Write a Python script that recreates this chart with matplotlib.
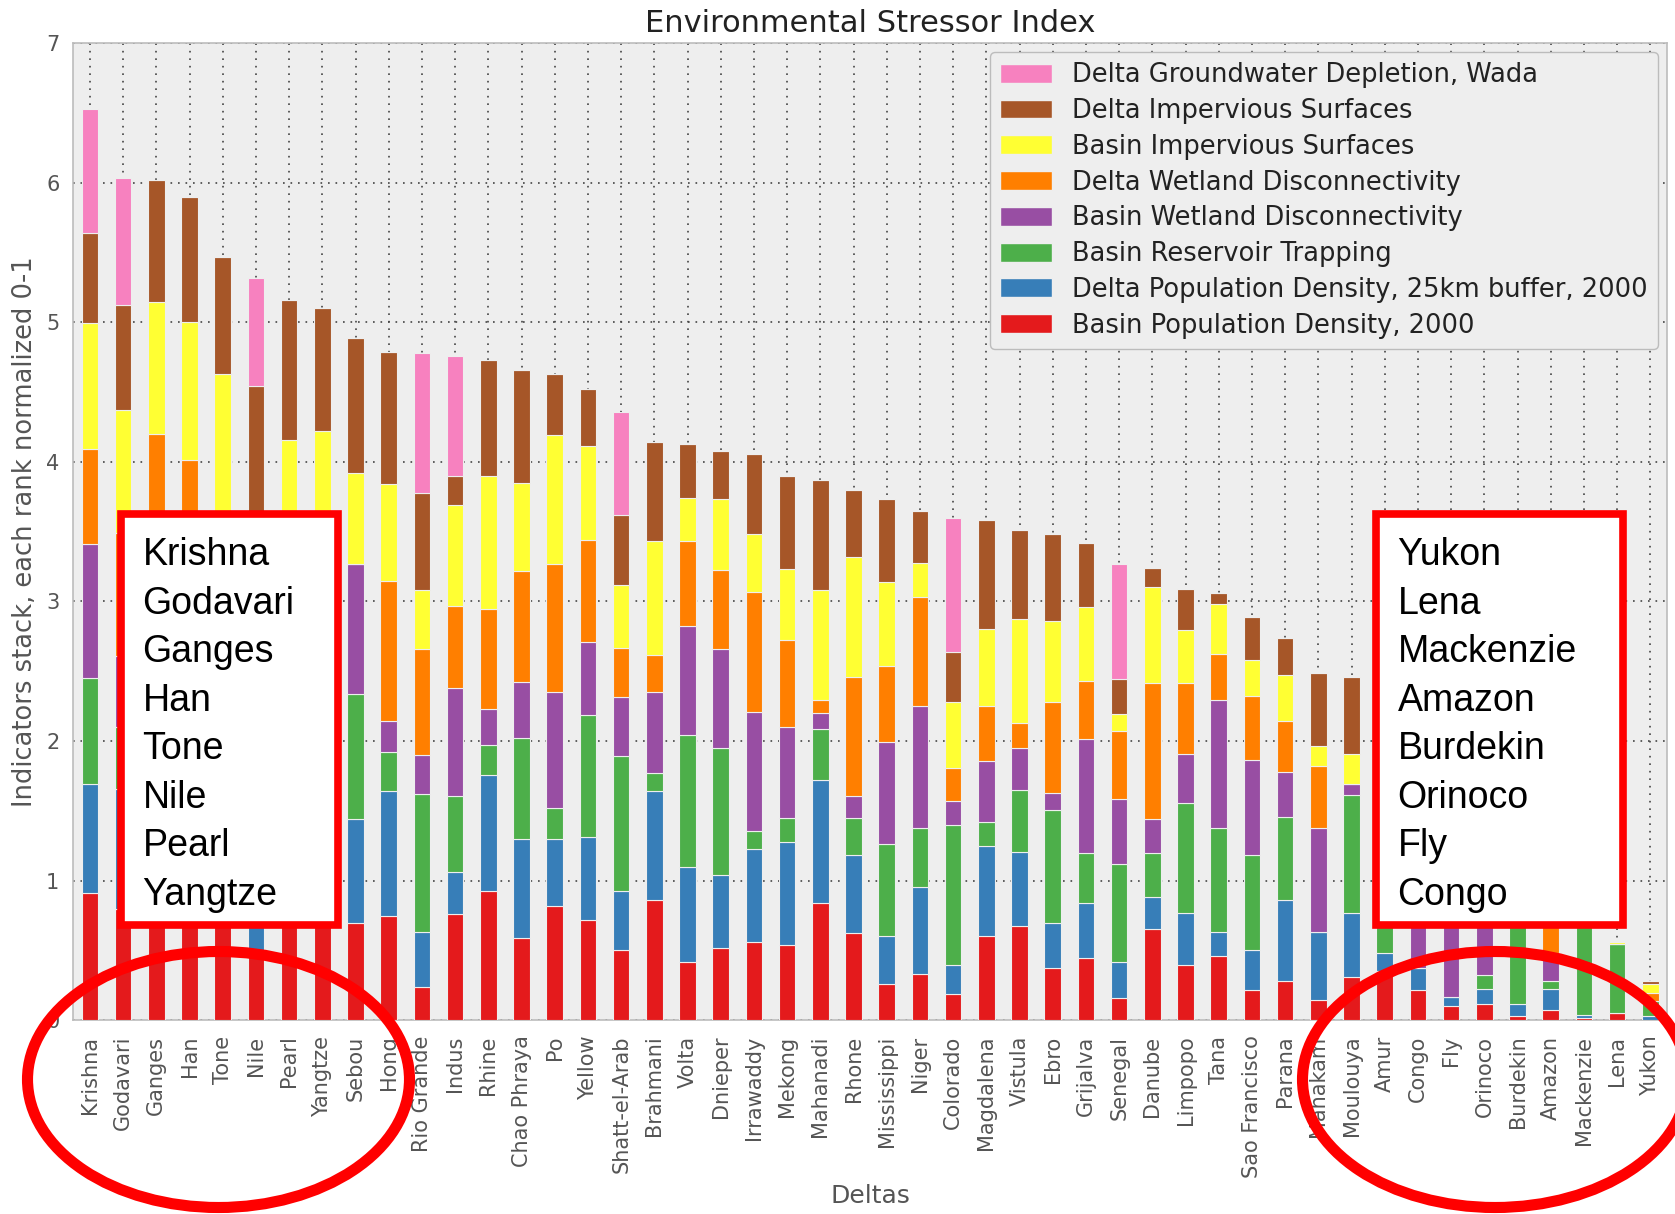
import matplotlib
matplotlib.use("Agg")
import matplotlib.pyplot as plt
import numpy as np
from matplotlib.patches import Rectangle, Ellipse, Patch

deltas = ["Krishna", "Godavari", "Ganges", "Han", "Tone", "Nile", "Pearl", "Yangtze",
          "Sebou", "Hong", "Rio Grande", "Indus", "Rhine", "Chao Phraya", "Po", "Yellow",
          "Shatt-el-Arab", "Brahmani", "Volta", "Dnieper", "Irrawaddy", "Mekong",
          "Mahanadi", "Rhone", "Mississippi", "Niger", "Colorado", "Magdalena", "Vistula",
          "Ebro", "Grijalva", "Senegal", "Danube", "Limpopo", "Tana", "Sao Francisco",
          "Parana", "Mahakam", "Moulouya", "Amur", "Congo", "Fly", "Orinoco", "Burdekin",
          "Amazon", "Mackenzie", "Lena", "Yukon"]

# indicator values, stacked bottom -> top
basin_pop = [0.91, 0.80, 0.95, 0.90, 0.80, 0.49, 0.85, 0.80, 0.70, 0.745,
             0.24, 0.763, 0.927, 0.59, 0.816, 0.715, 0.50, 0.86, 0.42, 0.516,
             0.563, 0.538, 0.842, 0.627, 0.263, 0.332, 0.187, 0.604, 0.674, 0.373,
             0.443, 0.161, 0.652, 0.399, 0.462, 0.215, 0.285, 0.146, 0.31, 0.353,
             0.215, 0.103, 0.119, 0.031, 0.074, 0.014, 0.055, 0.0]
delta_pop = [0.78, 0.86, 0.55, 0.55, 0.60, 0.66, 0.60, 0.55, 0.74, 0.90,
             0.39, 0.30, 0.833, 0.71, 0.484, 0.601, 0.427, 0.78, 0.68, 0.524,
             0.665, 0.737, 0.876, 0.56, 0.341, 0.624, 0.209, 0.646, 0.532, 0.327,
             0.399, 0.26, 0.234, 0.37, 0.171, 0.285, 0.579, 0.487, 0.459, 0.132,
             0.162, 0.064, 0.103, 0.088, 0.148, 0.024, 0.0, 0.031]
reservoir = [0.76, 0.44, 0.70, 0.65, 0.60, 0.55, 0.55, 0.60, 0.895, 0.28,
             0.99, 0.547, 0.21, 0.72, 0.22, 0.874, 0.963, 0.13, 0.94, 0.91,
             0.126, 0.177, 0.372, 0.262, 0.662, 0.421, 1.00, 0.168, 0.444, 0.806,
             0.354, 0.696, 0.31, 0.785, 0.744, 0.687, 0.595, 0.0, 0.845, 1.115,
             0.0, 0.0, 0.103, 1.281, 0.06, 1.062, 0.49, 0.107]
basin_wetland = [0.96, 0.51, 0.75, 0.70, 0.70, 0.50, 0.50, 0.60, 0.935, 0.22,
                 0.28, 0.77, 0.26, 0.40, 0.83, 0.52, 0.426, 0.58, 0.786, 0.71,
                 0.852, 0.646, 0.113, 0.159, 0.728, 0.876, 0.174, 0.442, 0.30, 0.124,
                 0.82, 0.468, 0.247, 0.354, 0.917, 0.677, 0.321, 0.744, 0.079, 0.25,
                 1.123, 1.233, 0.975, 0.05, 0.203, 0.0, 0.0, 0.0]
delta_wetland = [0.68, 0.88, 1.25, 1.21, 0.50, 0.55, 0.60, 0.50, 0.0, 1.00,
                 0.76, 0.59, 0.716, 0.80, 0.916, 0.73, 0.354, 0.267, 0.604, 0.565,
                 0.86, 0.627, 0.091, 0.851, 0.541, 0.782, 0.237, 0.39, 0.18, 0.648,
                 0.411, 0.488, 0.972, 0.507, 0.329, 0.462, 0.366, 0.443, 0.0, 0.20,
                 0.40, 0.35, 0.30, 0.10, 0.815, 0.0, 0.0, 0.06]
basin_imperv = [0.905, 0.88, 0.946, 0.99, 1.43, 0.70, 1.06, 1.17, 0.65, 0.695,
                0.425, 0.72, 0.954, 0.63, 0.924, 0.67, 0.447, 0.813, 0.31, 0.512,
                0.418, 0.509, 0.791, 0.857, 0.607, 0.237, 0.475, 0.55, 0.743, 0.58,
                0.535, 0.12, 0.689, 0.379, 0.361, 0.256, 0.326, 0.145, 0.215, 0.15,
                0.15, 0.15, 0.15, 0.10, 0.10, 0.10, 0.019, 0.065]
delta_imperv = [0.645, 0.75, 0.874, 0.90, 0.84, 1.09, 1.00, 0.885, 0.97, 0.945,
                0.695, 0.21, 0.83, 0.805, 0.44, 0.41, 0.503, 0.71, 0.39, 0.339,
                0.57, 0.666, 0.782, 0.484, 0.592, 0.374, 0.354, 0.78, 0.637, 0.622,
                0.458, 0.253, 0.133, 0.295, 0.073, 0.307, 0.265, 0.522, 0.548, 0.20,
                0.25, 0.20, 0.20, 0.15, 0.15, 0.15, 0.0, 0.019]
groundwater = [0.89, 0.916, 0, 0, 0, 0.78, 0, 0, 0, 0,
               1.0, 0.856, 0, 0, 0, 0, 0.74, 0, 0, 0,
               0, 0, 0, 0, 0, 0, 0.964, 0, 0, 0,
               0, 0.824, 0, 0, 0, 0, 0, 0, 0, 0,
               0, 0, 0, 0, 0, 0, 0, 0]

series = [
    ("Basin Population Density, 2000", basin_pop, "#e41a1c"),
    ("Delta Population Density, 25km buffer, 2000", delta_pop, "#377eb8"),
    ("Basin Reservoir Trapping", reservoir, "#4daf4a"),
    ("Basin Wetland Disconnectivity", basin_wetland, "#984ea3"),
    ("Delta Wetland Disconnectivity", delta_wetland, "#ff7f00"),
    ("Basin Impervious Surfaces", basin_imperv, "#ffff33"),
    ("Delta Impervious Surfaces", delta_imperv, "#a65628"),
    ("Delta Groundwater Depletion, Wada", groundwater, "#f781bf"),
]

top_list = ["Krishna", "Godavari", "Ganges", "Han", "Tone", "Nile", "Pearl", "Yangtze"]
bottom_list = ["Yukon", "Lena", "Mackenzie", "Amazon", "Burdekin", "Orinoco", "Fly", "Congo"]

W, H = 1675, 1214
fig = plt.figure(figsize=(W / 100, H / 100), dpi=100)
fig.patch.set_facecolor("white")

x0, x1 = 73.3, 1667.0
y_top, y_bot = 43.0, 1020.3
ax = fig.add_axes([x0 / W, 1 - y_bot / H, (x1 - x0) / W, (y_bot - y_top) / H])
ax.set_facecolor("#eeeeee")

x = np.arange(len(deltas))
bottom = np.zeros(len(deltas))
handles = []
for label, vals, color in series:
    v = np.array(vals, dtype=float)
    ax.bar(x, v, width=0.5, bottom=bottom, color=color, edgecolor="#eeeeee",
           linewidth=0.8, zorder=3)
    bottom += v
    handles.append(Patch(facecolor=color, edgecolor="#eeeeee", label=label))

ax.set_xlim(-0.5, len(deltas) - 0.5)
ax.set_ylim(0, 7)
ax.set_xticks(x)
ax.set_xticklabels(deltas, rotation=90, fontsize=15, color="#555555")
ax.set_yticks(range(0, 8))
ax.tick_params(axis="y", labelsize=15, labelcolor="#555555", length=0, pad=10)
ax.tick_params(axis="x", length=0, pad=11)
ax.grid(True, color="#444444", linestyle=(0, (1, 3.5)), linewidth=1.2, zorder=0)
ax.set_axisbelow(True)
for s in ax.spines.values():
    s.set_color("#bcbcbc")
    s.set_linewidth(1.2)

ax.set_title("Environmental Stressor Index", fontsize=22, color="#222222", pad=8)
ax.set_ylabel("Indicators stack, each rank normalized 0-1", fontsize=18.5, color="#555555")
ax.yaxis.set_label_coords(-0.022, 0.5)
ax.set_xlabel("Deltas", fontsize=18, color="#555555")
ax.xaxis.set_label_coords(0.5, -0.168)

leg = ax.legend(handles=handles[::-1], loc="upper right", fontsize=18.5,
                handlelength=2.0, handleheight=0.75, handletextpad=0.8,
                labelspacing=0.38, borderpad=0.4, borderaxespad=0.35,
                fancybox=True, framealpha=1.0)
leg.get_frame().set_facecolor("#eeeeee")
leg.get_frame().set_edgecolor("#bcbcbc")
for t in leg.get_texts():
    t.set_color("#222222")

# callout layer in pixel coordinates
ov = fig.add_axes([0, 0, 1, 1], zorder=10)
ov.set_xlim(0, W)
ov.set_ylim(H, 0)
ov.axis("off")
ov.patch.set_alpha(0)

box_lw = 5.5
ov.add_patch(Rectangle((121, 514), 217, 411, facecolor="white", edgecolor="#ff0000",
                       linewidth=box_lw))
ov.add_patch(Rectangle((1376, 514), 247, 411, facecolor="white", edgecolor="#ff0000",
                       linewidth=box_lw))
for i, name in enumerate(top_list):
    ov.text(142.5, 565.3 + i * 48.5, name, fontsize=27, family="Liberation Sans",
            color="black", va="baseline", ha="left")
for i, name in enumerate(bottom_list):
    ov.text(1397.5, 565.3 + i * 48.5, name, fontsize=27, family="Liberation Sans",
            color="black", va="baseline", ha="left")

ov.add_patch(Ellipse((218.5, 1079.5), 382, 256, facecolor="none", edgecolor="#ff0000",
                     linewidth=8))
ov.add_patch(Ellipse((1495, 1079.5), 385, 256, facecolor="none", edgecolor="#ff0000",
                     linewidth=8))

fig.savefig("out.png", dpi=100)
